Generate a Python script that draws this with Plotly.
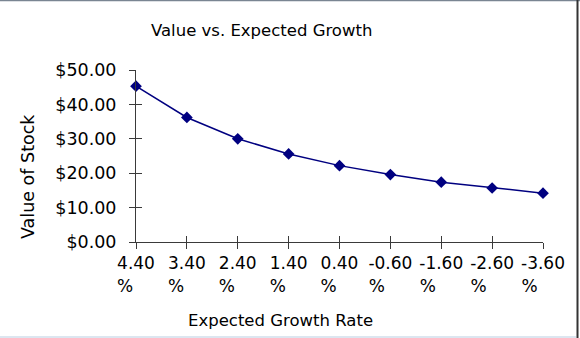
import plotly.graph_objects as go

growth_rates = [4.40, 3.40, 2.40, 1.40, 0.40, -0.60, -1.60, -2.60, -3.60]
stock_values = [45.3, 36.2, 30.0, 25.6, 22.2, 19.6, 17.4, 15.7, 14.2]
y_ticks = [0, 10, 20, 30, 40, 50]

FONT = "DejaVu Sans"
TXT = "#000000"
AX = "#3a3a3a"
NAVY = "#000080"

idx = list(range(len(growth_rates)))
def lab(g):
    s = f"{g:.2f}"
    pad = "\u00a0" * (4 if len(s) <= 4 else 5)
    return f"{s}<br>%{pad}"
tick_text = [lab(g) for g in growth_rates]

fig = go.Figure()
fig.add_trace(go.Scatter(
    x=idx, y=stock_values, mode="lines+markers",
    line=dict(color=NAVY, width=1.5),
    marker=dict(symbol="diamond", size=9, color=NAVY),
    cliponaxis=False, showlegend=False,
))
fig.add_trace(go.Scatter(x=idx, y=stock_values, xaxis="x2", yaxis="y2",
                         mode="markers", marker=dict(opacity=0), showlegend=False,
                         hoverinfo="skip"))

fig.update_layout(
    width=580, height=338,
    margin=dict(l=136, r=37, t=70, b=96),
    paper_bgcolor="white", plot_bgcolor="white",
    font=dict(family=FONT, size=16.5, color=TXT),
    xaxis=dict(range=[0, 8], tickvals=idx, ticktext=tick_text,
               showgrid=False, zeroline=False, showline=True, linecolor=AX, linewidth=1,
               ticks="outside", ticklen=6, tickcolor=AX, tickwidth=1,
               tickfont=dict(size=17), ticklabelstandoff=0),
    yaxis=dict(range=[0, 50], tickvals=y_ticks,
               ticktext=[f"${v:.2f}" for v in y_ticks],
               showgrid=False, zeroline=False, showline=True, linecolor=AX, linewidth=1,
               ticks="outside", ticklen=6, tickcolor=AX, tickwidth=1,
               tickfont=dict(size=17.5), ticklabelstandoff=9),
    xaxis2=dict(range=[0, 8], tickvals=idx, overlaying="x", anchor="y2",
                showgrid=False, zeroline=False, showline=False, showticklabels=False,
                ticks="inside", ticklen=6, tickcolor=AX, tickwidth=1),
    yaxis2=dict(range=[0, 50], tickvals=y_ticks, overlaying="y", anchor="x2",
                showgrid=False, zeroline=False, showline=False, showticklabels=False,
                ticks="inside", ticklen=6, tickcolor=AX, tickwidth=1),
    annotations=[
        dict(text="Value vs. Expected Growth", xref="paper", yref="paper",
             x=(261 - 136) / 407, y=(242 - 30) / 172, showarrow=False,
             font=dict(size=16.5), xanchor="center", yanchor="middle"),
        dict(text="Expected Growth Rate", xref="paper", yref="paper",
             x=(280 - 136) / 407, y=(242 - 320) / 172, showarrow=False,
             font=dict(size=16.5), xanchor="center", yanchor="middle"),
        dict(text="Value of Stock", xref="paper", yref="paper",
             x=(28 - 136) / 407, y=(242 - 177) / 172, showarrow=False,
             textangle=-90, font=dict(size=17.5), xanchor="center", yanchor="middle"),
    ],
    shapes=[
        dict(type="line", xref="paper", yref="paper", x0=-136/407, x1=444/407,
             y0=(242 - 0.5) / 172, y1=(242 - 0.5) / 172, line=dict(color="#7a8592", width=1.5)),
        dict(type="line", xref="paper", yref="paper", x0=(577.5 - 136) / 407, x1=(577.5 - 136) / 407,
             y0=(242 - 338) / 172, y1=(242 - 0) / 172, line=dict(color="#333333", width=2)),
        dict(type="line", xref="paper", yref="paper", x0=-136/407, x1=(576 - 136) / 407,
             y0=(242 - 337) / 172, y1=(242 - 337) / 172, line=dict(color="#dce6f0", width=2)),
    ],
)

fig.write_html("out.html")
